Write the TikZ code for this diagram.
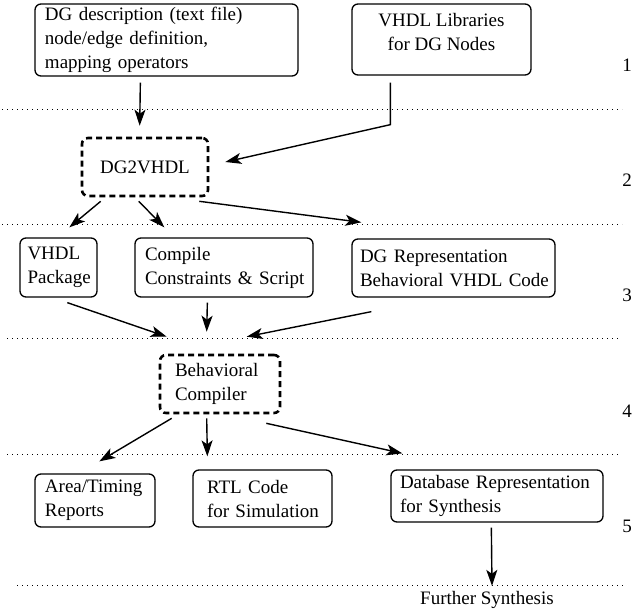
\documentclass[tikz,border=0pt]{standalone}
\usepackage{fontspec}
\setmainfont{Liberation Serif}
\usetikzlibrary{arrows.meta,calc}
\begin{document}
\begin{tikzpicture}[x=1pt,y=-1pt,
  every node/.style={font=\fontsize{19}{24}\selectfont},
  box/.style={draw, line width=1.3pt, rounded corners=6pt, align=left, inner ysep=0pt},
  dbox/.style={draw, line width=2.6pt, rounded corners=6pt, dash pattern=on 6pt off 4pt, align=left, inner ysep=0pt},
  arr/.style={line width=1.4pt, -{Stealth[length=16pt,width=11pt,inset=4pt]}},
  sepline/.style={line width=0.8pt, dash pattern=on 1pt off 4pt},
  lvl/.style={inner sep=0pt}]
\useasboundingbox (0,0) rectangle (635,613);

% separators
\draw[sepline] (2,109) -- (622,109);
\draw[sepline] (2,224) -- (622,224);
\draw[sepline] (7,338) -- (620,338);
\draw[sepline] (7,454) -- (620,454);
\draw[sepline] (17,585) -- (625,585);

% level numbers
\node[lvl] (l1) at (627,65) {1};
\node[lvl] (l2) at (627,180) {2};
\node[lvl] (l3) at (627,295) {3};
\node[lvl] (l4) at (627,411) {4};
\node[lvl] (l5) at (627,526) {5};

% boxes
\node[box, minimum height=72pt, text width=243pt, inner xsep=10pt] (dg) at (166.5,40)
  {\mbox{DG description (text file)}\\\mbox{node/edge definition,}\\\mbox{mapping operators}};
\node[box, align=center, minimum width=179pt, minimum height=71pt, text depth=16pt] (lib) at (441.5,39.5)
  {VHDL Libraries\\for DG Nodes};
\node[dbox, minimum width=126pt, minimum height=58pt] (dg2) at (145,167) {DG2VHDL};

\node[box, minimum height=59pt, text width=62pt, inner xsep=7.5pt] (pkg) at (58.5,267.5) {\mbox{VHDL}\\\mbox{Package}};
\node[box, minimum height=59pt, text width=158pt, inner xsep=10pt] (comp) at (224,267.5) {\mbox{Compile}\\\mbox{Constraints \& Script}};
\node[box, minimum height=58pt, text width=187pt, inner xsep=8pt] (rep) at (453.5,268) {\mbox{DG Representation}\\\mbox{Behavioral VHDL Code}};

\node[dbox, minimum height=58pt, text width=90pt, inner xsep=15pt] (beh) at (220,384) {\mbox{Behavioral}\\\mbox{Compiler}};

\node[box, minimum height=53pt, text width=100pt, inner xsep=10pt] (area) at (95,500.5) {\mbox{Area/Timing}\\\mbox{Reports}};
\node[box, minimum height=57pt, text width=111pt, inner xsep=14pt] (rtl) at (262.5,498.5) {\mbox{RTL Code}\\\mbox{for Simulation}};
\node[box, minimum height=52pt, text width=194pt, inner xsep=9pt] (db) at (497,496) {\mbox{Database Representation}\\\mbox{for Synthesis}};

\node (fs) at (487,600) {Further Synthesis};
\coordinate (fsin) at ($(fs.north)+(5,-2)$);

% connectors
\draw[arr] ($(dg.south west)+(106,6)$) -- ($(dg2.north west)+(59,-11)$);
\draw[arr] ($(lib.south west)+(39,7)$) -- ($(lib.south west)+(39,49)$) -- ($(dg2.east)+(16,-5)$);
\draw[arr] ($(dg2.south west)+(20,4)$) -- ($(pkg.north west)+(50,-10)$);
\draw[arr] ($(dg2.south west)+(58,4)$) -- ($(comp.north west)+(30,-10)$);
\draw[arr] ($(dg2.south east)+(-10,4)$) -- ($(rep.north west)+(10,-16)$);
\draw[arr] ($(pkg.south west)+(48,5)$) -- ($(beh.north west)+(8,-17)$);
\draw[arr] ($(comp.south west)+(73,5)$) -- ($(beh.north west)+(48,-22)$);
\draw[arr] ($(rep.south west)+(20,14)$) -- ($(beh.north west)+(88,-17)$);
\draw[arr] ($(beh.south west)+(13,4)$) -- ($(area.north west)+(65,-12)$);
\draw[arr] ($(beh.south west)+(48,4)$) -- ($(rtl.north west)+(15,-13)$);
\draw[arr] ($(beh.south east)+(-15,9)$) -- ($(db.north west)+(12,-16)$);
\draw[arr] ($(db.south west)+(101,5)$) -- (fsin);
\end{tikzpicture}
\end{document}
